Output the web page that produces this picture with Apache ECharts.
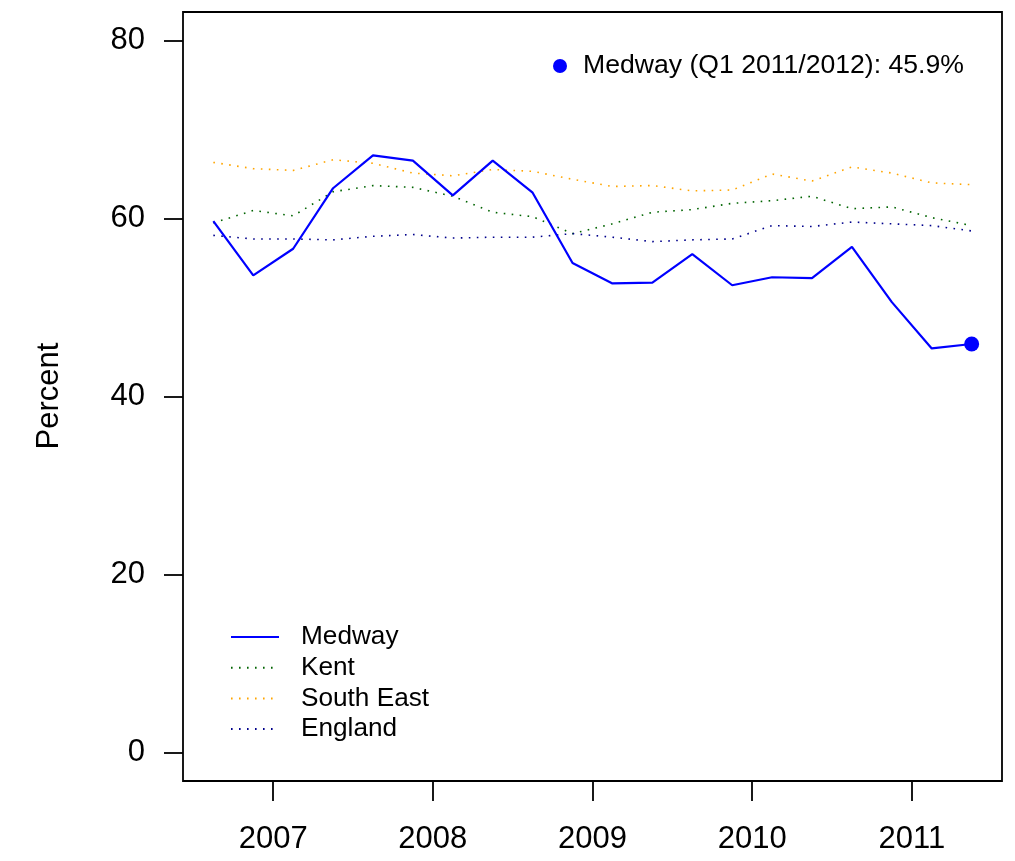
<!DOCTYPE html>
<html>
<head>
<meta charset="utf-8">
<script src="https://cdn.jsdelivr.net/npm/echarts@6/dist/echarts.min.js"></script>
<style>
  html, body { margin: 0; padding: 0; background: #fff; }
  #chart { width: 1015px; height: 861px; }
</style>
</head>
<body>
<div id="chart"></div>
<script>
// Quarter mid-points (decimal years)
const quarterTimes = [2006.625, 2006.875, 2007.125, 2007.375, 2007.625, 2007.875,
  2008.125, 2008.375, 2008.625, 2008.875, 2009.125, 2009.375, 2009.625, 2009.875,
  2010.125, 2010.375, 2010.625, 2010.875, 2011.125, 2011.375];

const medway    = [59.7, 53.6, 56.6, 63.4, 67.1, 66.5, 62.6, 66.5, 62.9, 55.0,
                   52.7, 52.8, 56.0, 52.5, 53.4, 53.3, 56.8, 50.6, 45.4, 45.9];
const kent      = [59.5, 60.9, 60.3, 63.0, 63.7, 63.5, 62.5, 60.7, 60.2, 58.3,
                   59.4, 60.7, 61.0, 61.7, 62.0, 62.5, 61.1, 61.3, 60.1, 59.2];
const southEast = [66.3, 65.6, 65.4, 66.6, 66.2, 65.1, 64.8, 65.5, 65.3, 64.4,
                   63.6, 63.7, 63.1, 63.2, 65.0, 64.2, 65.8, 65.1, 64.0, 63.8];
const england   = [58.1, 57.7, 57.7, 57.6, 58.0, 58.2, 57.8, 57.9, 57.9, 58.3,
                   57.9, 57.4, 57.6, 57.7, 59.2, 59.1, 59.6, 59.4, 59.2, 58.6];

const yearTicks = [2007, 2008, 2009, 2010, 2011];
const yTicks = [0, 20, 40, 60, 80];
const latestLabel = 'Q1 2011/2012';

const FONT = '"Liberation Sans", Arial, Helvetica, sans-serif';
const pairs = arr => arr.map((v, i) => [quarterTimes[i], v]);
const lastIdx = medway.length - 1;
const latestName = 'Medway (' + latestLabel + '): ' + medway[lastIdx].toFixed(1) + '%';

const chart = echarts.init(document.getElementById('chart'), null, { renderer: 'canvas' });

const dotted = (color) => ({ color: color, width: 1.6, type: [1.6, 6.4], cap: 'butt' });

chart.setOption({
  animation: false,
  backgroundColor: '#ffffff',
  textStyle: { fontFamily: FONT },
  grid: {
    left: 183, right: 13, top: 12, bottom: 80,
    show: true, borderColor: '#000', borderWidth: 1.8, backgroundColor: 'transparent'
  },
  xAxis: {
    type: 'value',
    min: 2006.435, max: 2011.565,
    axisLine: { show: false, onZero: false },
    splitLine: { show: false },
    axisTick: { show: true, length: 20, lineStyle: { color: '#000', width: 1.8 }, customValues: yearTicks },
    axisLabel: { color: '#000', fontSize: 31, fontFamily: FONT, margin: 43, customValues: yearTicks,
                 formatter: v => String(Math.round(v)) }
  },
  yAxis: {
    type: 'value',
    min: -3.2, max: 83.2,
    axisLine: { show: false, onZero: false },
    splitLine: { show: false },
    axisTick: { show: true, length: 19, lineStyle: { color: '#000', width: 1.8 }, customValues: yTicks },
    axisLabel: { color: '#000', fontSize: 31, fontFamily: FONT, margin: 38, customValues: yTicks,
                 formatter: v => String(Math.round(v)) }
  },
  legend: [
    {
      data: ['Medway', 'Kent', 'South East', 'England'],
      orient: 'vertical',
      left: 225, top: 617,
      itemWidth: 48, itemHeight: 14, itemGap: 0.7,
      selectedMode: false,
      itemStyle: { opacity: 0 },
      textStyle: { color: '#000', fontSize: 26.2, fontFamily: FONT, lineHeight: 30, padding: [0, 0, 0, 17] }
    },
    {
      data: [{ name: latestName, icon: 'circle' }],
      left: 548, top: 46,
      itemWidth: 14, itemHeight: 14,
      selectedMode: false,
      itemStyle: { opacity: 1 },
      textStyle: { color: '#000', fontSize: 26.6, fontFamily: FONT, lineHeight: 30, padding: [0, 0, 0, 11] }
    }
  ],
  graphic: [
    {
      type: 'text',
      x: 49, y: 396,
      rotation: Math.PI / 2,
      style: { text: 'Percent', fill: '#000', font: '31px ' + FONT, align: 'center', verticalAlign: 'middle' }
    }
  ],
  series: [
    { name: 'South East', type: 'line', data: pairs(southEast), symbol: 'none', lineStyle: dotted('#FFA500'), itemStyle: { color: '#FFA500' }, z: 2 },
    { name: 'Kent', type: 'line', data: pairs(kent), symbol: 'none', lineStyle: dotted('#006400'), itemStyle: { color: '#006400' }, z: 2 },
    { name: 'England', type: 'line', data: pairs(england), symbol: 'none', lineStyle: dotted('#00008B'), itemStyle: { color: '#00008B' }, z: 2 },
    { name: 'Medway', type: 'line', data: pairs(medway), symbol: 'none', lineStyle: { color: '#0000FF', width: 2.2 }, itemStyle: { color: '#0000FF' }, z: 3 },
    { name: latestName, type: 'scatter', data: [[quarterTimes[lastIdx], medway[lastIdx]]], symbol: 'circle', symbolSize: 15,
      itemStyle: { color: '#0000FF', opacity: 1 }, z: 4 }
  ]
});
</script>
</body>
</html>
